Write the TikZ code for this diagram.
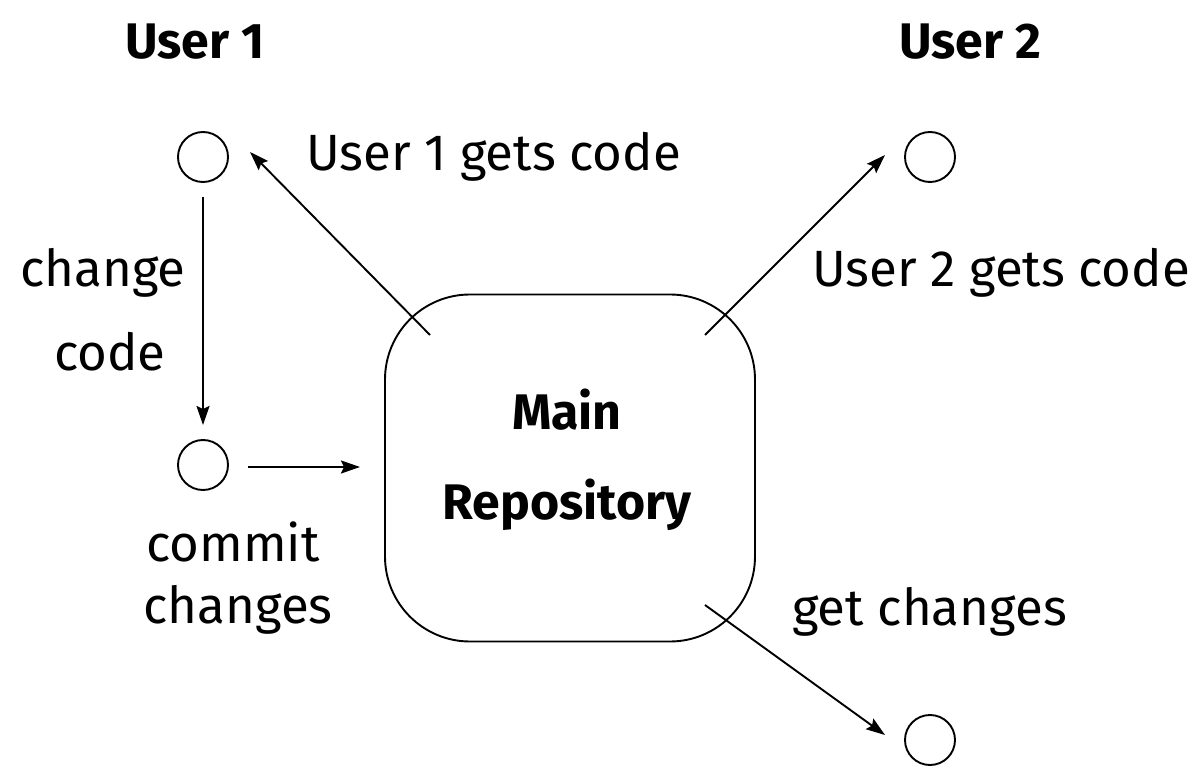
\documentclass[tikz,border=0pt]{standalone}
\usepackage{fontspec}
\setmainfont{Fira Sans}
\usetikzlibrary{arrows.meta}
\begin{document}
\begin{tikzpicture}[x=1pt,y=-1pt,
  lbl/.style={font=\fontsize{51}{61}\selectfont, inner sep=0pt},
  ttl/.style={font=\fontsize{50}{60}\selectfont\bfseries, inner sep=0pt},
  dot/.style={circle, draw, line width=1.9pt, minimum size=50pt, inner sep=0pt},
  arr/.style={line width=1.9pt, -{Stealth[length=19pt,width=13pt,inset=3pt]}},
  repo/.style={draw, line width=1.9pt, rounded corners=85pt, minimum width=370pt, minimum height=347pt}]
\useasboundingbox (0,0) rectangle (1203,767);
\node[ttl] (t1) at (195,42) {User 1};
\node[ttl] (t2) at (970,42) {User 2};
\node[dot] (c1) at (203,157) {};
\node[dot] (c2) at (203,465) {};
\node[dot] (c3) at (930,157) {};
\node[dot] (c4) at (930,740) {};
\node[repo] (r) at (570,468) {};
\node[ttl] (m1) at (567,410) {Main};
\node[ttl] (m2) at (567,505) {Repository};
\coordinate (a1) at (430,335);
\coordinate (a1e) at (250,152);
\coordinate (a2) at (705,335);
\coordinate (a2e) at (885,155);
\coordinate (a3) at (705,605);
\coordinate (a3e) at (885,735);
\coordinate (v1) at (203,197);
\coordinate (v2) at (203,425);
\coordinate (h1) at (248,467);
\coordinate (h2) at (360,467);
\draw[arr] (a1) -- (a1e);
\draw[arr] (a2) -- (a2e);
\draw[arr] (a3) -- (a3e);
\draw[arr] (v1) -- (v2);
\draw[arr] (h1) -- (h2);
\node[lbl, anchor=west] (l1) at (306,157) {User 1 gets code};
\node[lbl, anchor=west] (l2) at (812,273) {User 2 gets code};
\node[lbl] (l3) at (103,273) {change};
\node[lbl] (l4) at (110,352) {code};
\node[lbl] (l5) at (233,542) {commit};
\node[lbl] (l6) at (238,610) {changes};
\node[lbl, anchor=west] (l7) at (792,612) {get changes};
\end{tikzpicture}
\end{document}
